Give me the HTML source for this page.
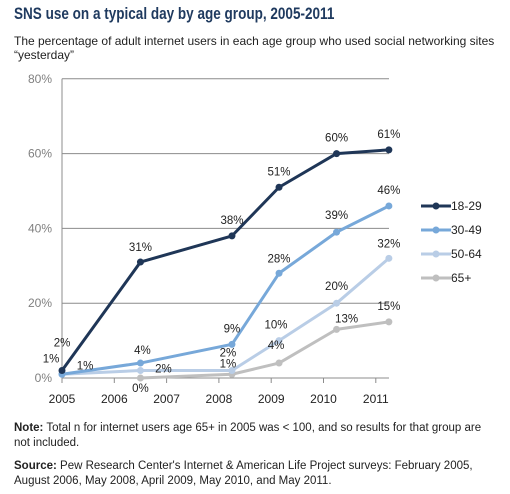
<!DOCTYPE html>
<html><head><meta charset="utf-8">
<style>
body{margin:0;background:#fff;font-family:"Liberation Sans",sans-serif;}
#wrap{position:relative;width:510px;height:494px;overflow:hidden;}
.t{position:absolute;left:14px;font-size:16.5px;font-weight:bold;color:#1f3a5f;top:5px;transform:scaleX(0.82);transform-origin:0 0;white-space:nowrap;}
.st{position:absolute;left:14px;top:34px;font-size:12px;color:#222;line-height:14px;width:490px;}
.nt{position:absolute;left:14px;font-size:11.5px;color:#222;line-height:15px;}
</style></head><body>
<div id="wrap">
<div class="t">SNS use on a typical day by age group, 2005-2011</div>
<div class="st">The percentage of adult internet users in each age group who used social networking sites “yesterday”</div>
<svg id="chart" width="510" height="494" style="position:absolute;left:0;top:0"></svg>
<div class="nt" style="top:421px;width:470px"><b>Note:</b> Total n for internet users age 65+ in 2005 was &lt; 100, and so results for that group are not included.</div>
<div class="nt" style="top:459px;width:490px"><b>Source:</b> Pew Research Center's Internet &amp; American Life Project surveys: February 2005, August 2006, May 2008, April 2009, May 2010, and May 2011.</div>
</div>
<script>
const surveyYears=[2005.0,2006.5,2008.25,2009.15,2010.25,2011.25];
const seriesNames=["18-29","30-49","50-64","65+"];
const s1829=[2,31,38,51,60,61];
const s3049=[1,4,9,28,39,46];
const s5064=[1,2,2,10,20,32];
const s65=[null,0,1,4,13,15];
const yTicks=[0,20,40,60,80];
const xTicks=[2005,2006,2007,2008,2009,2010,2011];
const colors=["#1f3657","#77a8d9","#b9cde6","#bfbfbf"];
const lblDx=[[0,0,0,0,0,0],[-11,2,0,0,0,0],[23,23,-4,-3,0,0],[0,0,-4,-3,10,0]];
const lblDy=[[-24,-11,-12,-12,-12,-12],[-12,-9,-12,-11,-13,-12],[-5,2,-14,-12,-13,-11],[0,14,-7,-14,-7,-12]];
const NS="http://www.w3.org/2000/svg";
const svg=document.getElementById('chart');
const X=v=>62+(v-2005)*52.3;
const Y=v=>378-v*3.74;
function mk(t,a){const e=document.createElementNS(NS,t);for(const k in a)e.setAttribute(k,a[k]);svg.appendChild(e);return e;}
yTicks.forEach(v=>{
 if(v>0){const g=mk('line',{x1:62,x2:389,y1:Y(v),y2:Y(v),stroke:'#8c8c8c','stroke-width':1});
 
 }
 const t=mk('text',{x:52,y:Y(v)+4,'text-anchor':'end','font-size':12,fill:'#808080'});t.textContent=v+'%';
 
 
});
const ax=mk('line',{x1:62,x2:62,y1:Y(80),y2:378,stroke:'#8c8c8c'});


const bx=mk('line',{x1:62,x2:389,y1:378,y2:378,stroke:'#8c8c8c'});


xTicks.forEach(v=>{
 const l=mk('line',{x1:X(v),x2:X(v),y1:378,y2:383,stroke:'#8c8c8c'});
 
 
 const t=mk('text',{x:X(v),y:403,'text-anchor':'middle','font-size':12,fill:'#222'});t.textContent=v;
 
 
});
const all=[s1829,s3049,s5064,s65];
for(let si=all.length-1;si>=0;si--){
 const d=all[si];const pts=[];
 d.forEach((v,i)=>{if(v!==null)pts.push([X(surveyYears[i]),Y(v)]);});
 const p=mk('polyline',{points:pts.map(p=>p.join(',')).join(' '),fill:'none',stroke:colors[si],'stroke-width':3,'stroke-linejoin':'round'});
 
 
 d.forEach((v,i)=>{if(v===null)return;
  const c=mk('circle',{cx:X(surveyYears[i]),cy:Y(v),r:3.5,fill:colors[si]});
  
  
 });
}
all.forEach((d,si)=>{d.forEach((v,i)=>{if(v===null)return;
 const t=mk('text',{x:X(surveyYears[i])+lblDx[si][i],y:Y(v)+lblDy[si][i],'text-anchor':'middle','font-size':11.5,fill:'#222'});
 t.textContent=v+'%';
 
 
});});
seriesNames.forEach((n,i)=>{
 const y=206+i*24;
 const l=mk('line',{x1:421,x2:451,y1:y,y2:y,stroke:colors[i],'stroke-width':3});
 
 
 const c=mk('circle',{cx:436,cy:y,r:3.5,fill:colors[i]});
 
 
 const t=mk('text',{x:451,y:y+4,'font-size':12,fill:'#222'});t.textContent=n;
 
 
});
</script>
</body></html>
